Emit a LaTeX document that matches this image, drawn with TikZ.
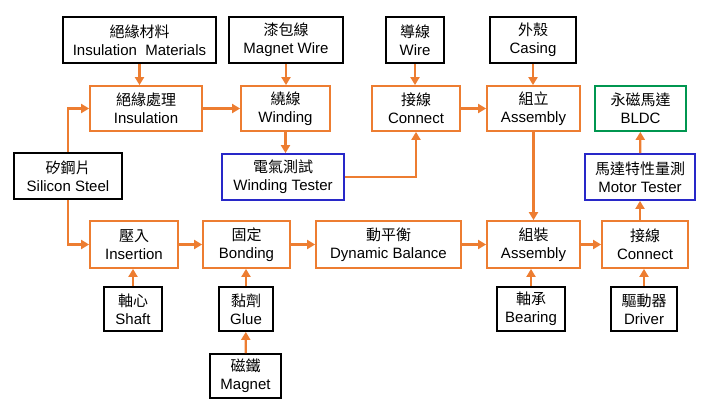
\documentclass[tikz,border=0pt]{standalone}
\usepackage{fontspec}
\setmainfont{Liberation Sans}
\newfontfamily\cjk{Noto Sans CJK TC}
\usetikzlibrary{arrows.meta}
\definecolor{org}{RGB}{237,125,49}
\definecolor{blu}{RGB}{40,40,200}
\definecolor{grn}{RGB}{0,150,80}
\begin{document}
\begin{tikzpicture}[x=1pt,y=-1pt,
 bx/.style={draw=black,line width=1.8pt,fill=white,align=center,inner sep=0pt,font=\fontsize{15}{18}\selectfont},
 ob/.style={bx,draw=org},
 bb/.style={bx,draw=blu},
 gb/.style={bx,draw=grn},
 ar/.style={draw=org,line width=2.2pt,-{Triangle[length=8pt,width=9pt]}}]
\useasboundingbox (0,0) rectangle (720,412);
\newcommand{\B}[7]{\node[#1,minimum width=#4-#3,minimum height=#6-#5] (#2) at ({(#3+#4)/2},{(#5+#6)/2}) {#7};}
\B{bx}{im}{63}{216}{17}{63}{{\cjk 絕緣材料}\\Insulation\ \ Materials}
\B{bx}{mw}{229}{343}{17}{63}{{\cjk 漆包線}\\Magnet Wire}
\B{bx}{wi}{386}{444}{17}{63}{{\cjk 導線}\\Wire}
\B{bx}{ca}{490}{576}{17}{63}{{\cjk 外殼}\\Casing}
\B{ob}{in}{90}{202}{86}{131}{{\cjk 絕緣處理}\\Insulation}
\B{ob}{wd}{241}{330}{86}{131}{{\cjk 繞線}\\Winding}
\B{ob}{c1}{372}{460}{86}{131}{{\cjk 接線}\\Connect}
\B{ob}{a1}{487}{580}{86}{131}{{\cjk 組立}\\Assembly}
\B{gb}{bl}{595}{686}{86}{131}{{\cjk 永磁馬達}\\BLDC}
\B{bb}{wt}{222}{344}{154}{200}{{\cjk 電氣測試}\\Winding Tester}
\B{bb}{mt}{585}{695}{154}{200}{{\cjk 馬達特性量測}\\Motor Tester}
\B{bx}{ss}{14}{122}{153}{199}{{\cjk 矽鋼片}\\Silicon Steel}
\B{ob}{is}{90}{178}{221}{268}{{\cjk 壓入}\\Insertion}
\B{ob}{bo}{203}{290}{221}{268}{{\cjk 固定}\\Bonding}
\B{ob}{db}{316}{461}{221}{268}{{\cjk 動平衡}\\Dynamic Balance}
\B{ob}{a2}{487}{580}{221}{268}{{\cjk 組裝}\\Assembly}
\B{ob}{c2}{602}{688}{221}{268}{{\cjk 接線}\\Connect}
\B{bx}{sh}{104}{162}{287}{331}{{\cjk 軸心}\\Shaft}
\B{bx}{gl}{219}{273}{287}{331}{{\cjk 黏劑}\\Glue}
\B{bx}{mg}{210}{281}{354}{398}{{\cjk 磁鐵}\\Magnet}
\B{bx}{br}{497}{565}{287}{331}{{\cjk 軸承}\\Bearing}
\B{bx}{dr}{611}{677}{287}{331}{{\cjk 驅動器}\\Driver}
\draw[ar] (im.south) -- (im.south |- in.north);
\draw[ar] (mw.south) -- (mw.south |- wd.north);
\draw[ar] (wi.south) -- (wi.south |- c1.north);
\draw[ar] (ca.south) -- (ca.south |- a1.north);
\draw[ar] (ss.north) -- (ss.north |- in.west) -- (in.west);
\draw[ar] (ss.south) -- (ss.south |- is.west) -- (is.west);
\draw[ar] (in) -- (wd);
\draw[ar] (wd.south) -- (wd.south |- wt.north);
\draw[ar] (wt.east) -- (wt.east -| c1.south) -- (c1.south);
\draw[ar] (c1) -- (a1);
\draw[ar] (a1) -- (a2);
\draw[ar] (is) -- (bo);
\draw[ar] (bo) -- (db);
\draw[ar] (db) -- (a2);
\draw[ar] (a2) -- (c2);
\draw[ar] (c2.north -| mt.south) -- (mt.south);
\draw[ar] (mt) -- (bl);
\draw[ar] (sh.north) -- (sh.north |- is.south);
\draw[ar] (gl) -- (gl |- bo.south);
\draw[ar] (mg) -- (gl);
\draw[ar] (br) -- (br |- a2.south);
\draw[ar] (dr) -- (dr |- c2.south);
\end{tikzpicture}
\end{document}
